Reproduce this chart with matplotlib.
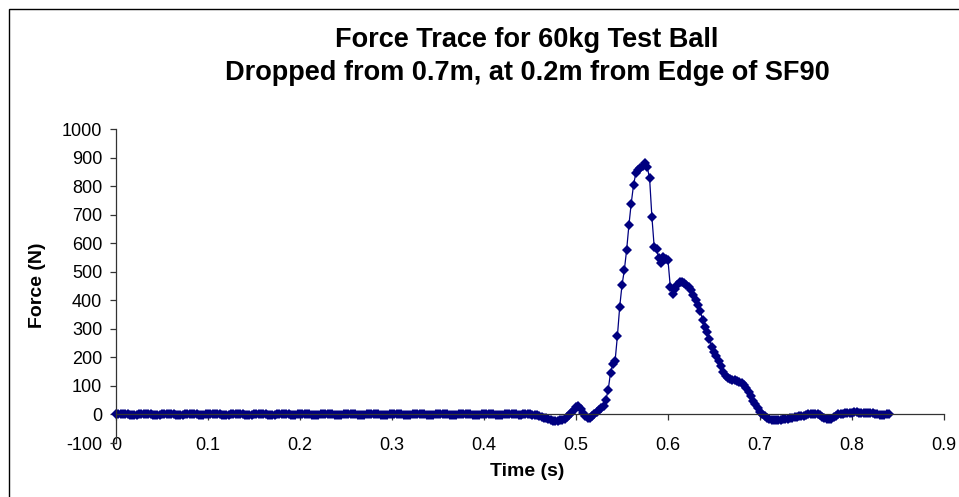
import numpy as np
import matplotlib
matplotlib.use("Agg")
import matplotlib.pyplot as plt
from matplotlib.patches import Rectangle

plt.rcParams['font.family'] = ['Liberation Sans', 'DejaVu Sans']

# ---- data ----
dt = 0.0025  # sampling interval (s)

baseline_force = [
    1, 2, 3, 3, 2, 0, -1, -2, -2, -1, 1, 2,
    3, 3, 2, 1, -1, -2, -2, -1, 0, 2, 3, 3,
    2, 0, -1, -2, -2, -1, 1, 2, 3, 2, 1, 0,
    -2, -2, -2, 0, 1, 2, 3, 3, 2, 0, -1, -2,
    -2, -1, 1, 2, 3, 3, 2, 0, -1, -2, -2, -1,
    0, 2, 3, 3, 2, 1, -1, -2, -2, -1, 1, 2,
    3, 3, 2, 0, -1, -2, -2, 0, 1, 2, 3, 2,
    1, -1, -2, -2, -1, 0, 2, 3, 3, 2, 0, -1,
    -2, -2, -1, 1, 2, 3, 3, 2, 0, -1, -2, -2,
    -1, 0, 2, 3, 3, 2, 1, -1, -2, -2, -1, 1,
    2, 3, 3, 2, 0, -1, -2, -2, -1, 1, 2, 3,
    3, 2, 1, -1, -2, -2, -1, 0, 2, 3, 3, 2,
    0, -1, -2, -2, -1, 1, 2, 3, 3, 2, 1, -1,
    -2, -2, -1, 0, 2, 3, 3, 2, 0, -1, -2, -2,
    -1, 1, 2, 3, 2, 1, 0, -1, -1, 0, 0, 1,
]

impact_force = [
    0, -1, -2, -3, -5, -8, -11, -14, -17, -20, -22, -23, -22, -21, -19, -16,
    -10, -3, 6, 16, 26, 30, 20, 6, -4, -11, -12, -5, 3, 9, 15, 21,
    28, 52, 86, 146, 176, 188, 275, 377, 453, 505, 575, 663, 739, 803,
    845, 856, 864, 872, 880, 866, 827, 692, 587, 578, 548, 529, 552, 546,
    540, 447, 423, 438, 455, 463, 464, 461, 455, 447, 436, 420, 400, 382,
    364, 332, 305, 289, 266, 235, 218, 205, 189, 168, 150, 136, 128, 124,
    121, 119, 117, 114, 110, 103, 94, 80, 63, 48, 35, 22, 10, 1,
]

tail_force = [
    -7, -13, -16, -18, -18, -19, -18, -18, -17, -16, -15, -13, -11, -9,
    -8, -7, -6, -4, -2, 0, 2, 3, 3, 1, -3, -8, -12, -15, -16, -15, -10,
    -4, 0, 2, 3, 4, 5, 6, 6, 7, 7, 6, 6, 5, 5, 6, 6, 5, 3, 1, -1, -2,
    -1, 0, 0,
]

force = np.array(baseline_force + impact_force + tail_force, dtype=float)
time = np.arange(len(force)) * dt

x_ticks = [0, 0.1, 0.2, 0.3, 0.4, 0.5, 0.6, 0.7, 0.8, 0.9]
x_tick_labels = ["0", "0.1", "0.2", "0.3", "0.4", "0.5", "0.6", "0.7", "0.8", "0.9"]
y_ticks = list(range(-100, 1001, 100))

title_line1 = "Force Trace for 60kg Test Ball"
title_line2 = "Dropped from 0.7m, at 0.2m from Edge of SF90"

# ---- figure ----
W, H = 959, 497
fig = plt.figure(figsize=(W / 100, H / 100), dpi=100)
fig.patch.set_facecolor('white')

# outer chart border (extends beyond right/bottom edges)
fig.patches.append(Rectangle((8.5 / W, -0.1), 1.2, 1 - 8.5 / H + 0.1,
                             transform=fig.transFigure, fill=False,
                             edgecolor='black', linewidth=1.0))

left, right = 116 / W, 944 / W
bottom, top = 1 - 443 / H, 1 - 129 / H
ax = fig.add_axes([left, bottom, right - left, top - bottom])
ax.set_facecolor('none')

navy = '#000080'
ax.plot(time, force, color=navy, linewidth=0.9, marker='D', markersize=5.5,
        markeredgewidth=0, markerfacecolor=navy, clip_on=False)

ax.set_xlim(0, 0.9)
ax.set_ylim(-100, 1000)

for s in ['top', 'right']:
    ax.spines[s].set_visible(False)
ax.spines['bottom'].set_position(('data', 0))
for s in ['left', 'bottom']:
    ax.spines[s].set_color('#333333')
    ax.spines[s].set_linewidth(0.9)

ax.set_xticks(x_ticks)
ax.set_xticklabels(x_tick_labels)
ax.set_yticks(y_ticks)
ax.set_yticklabels([str(v) for v in y_ticks])
ax.tick_params(axis='x', direction='out', length=4, width=0.9, color='#333333',
               labelsize=13, pad=12)
ax.tick_params(axis='y', direction='out', length=4, width=0.9, color='#333333',
               labelsize=13, pad=6)

fig.text(527 / W, 1 - 40 / H, title_line1, ha='center', va='center',
         fontsize=19.5, fontweight='bold')
fig.text(527 / W, 1 - 73 / H, title_line2, ha='center', va='center',
         fontsize=19.5, fontweight='bold')
fig.text(38 / W, 1 - 285 / H, "Force (N)", ha='center', va='center',
         rotation=90, fontsize=14, fontweight='bold')
fig.text(527 / W, 1 - 472 / H, "Time (s)", ha='center', va='center',
         fontsize=14, fontweight='bold')

fig.savefig('out.png', dpi=100)
